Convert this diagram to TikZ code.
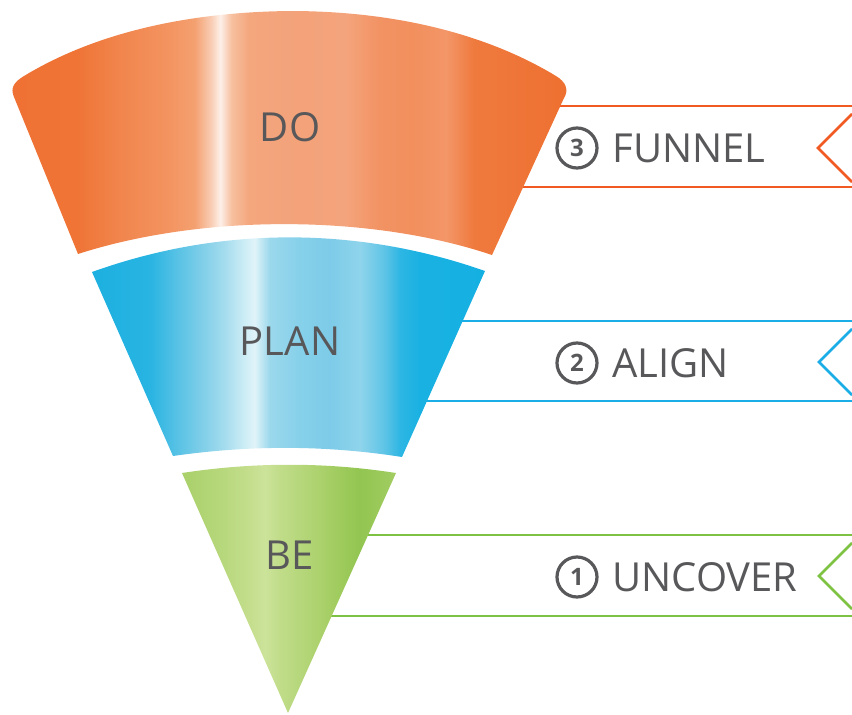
\documentclass[tikz,border=0pt]{standalone}
\usepackage{fontspec}
\setmainfont{Open Sans}
\usepackage{tikz}
\usepackage{xcolor}

\definecolor{txt}{HTML}{58585A}
\definecolor{orangeline}{HTML}{F15A22}
\definecolor{blueline}{HTML}{1BADE6}
\definecolor{greenline}{HTML}{7DC242}

% glossy stripes, left to right (25bp = left edge, 75bp = right edge)
\pgfdeclarehorizontalshading{doshade}{100bp}{%
  rgb(0bp)=(0.937,0.447,0.204); rgb(25bp)=(0.937,0.447,0.204);
  rgb(31bp)=(0.937,0.455,0.212); rgb(35bp)=(0.945,0.525,0.306);
  rgb(39bp)=(0.953,0.576,0.373); rgb(41.5bp)=(0.957,0.627,0.439);
  rgb(43bp)=(0.976,0.804,0.710); rgb(43.8bp)=(0.992,0.941,0.910);
  rgb(44.8bp)=(0.969,0.753,0.624); rgb(46.4bp)=(0.957,0.651,0.490);
  rgb(51bp)=(0.953,0.635,0.478); rgb(55bp)=(0.957,0.643,0.486);
  rgb(58bp)=(0.949,0.576,0.392); rgb(61bp)=(0.949,0.561,0.365);
  rgb(64bp)=(0.953,0.588,0.408); rgb(66.5bp)=(0.937,0.478,0.243);
  rgb(75bp)=(0.933,0.439,0.188); rgb(100bp)=(0.933,0.439,0.188)}
\pgfdeclarehorizontalshading{planshade}{100bp}{%
  rgb(0bp)=(0.110,0.690,0.878); rgb(25bp)=(0.110,0.690,0.878);
  rgb(32.4bp)=(0.161,0.706,0.886); rgb(35.6bp)=(0.333,0.757,0.898);
  rgb(38.7bp)=(0.486,0.804,0.910); rgb(41.9bp)=(0.647,0.863,0.933);
  rgb(44.5bp)=(0.812,0.933,0.965); rgb(45.7bp)=(0.878,0.953,0.973);
  rgb(47.6bp)=(0.608,0.847,0.925); rgb(51.5bp)=(0.525,0.816,0.918);
  rgb(55.3bp)=(0.490,0.796,0.910); rgb(59.1bp)=(0.561,0.831,0.922);
  rgb(62.3bp)=(0.361,0.765,0.902); rgb(64.2bp)=(0.176,0.714,0.890);
  rgb(66.7bp)=(0.098,0.694,0.886); rgb(75bp)=(0.082,0.690,0.886);
  rgb(100bp)=(0.082,0.690,0.886)}
\pgfdeclarehorizontalshading{beshade}{100bp}{%
  rgb(0bp)=(0.663,0.816,0.416); rgb(25bp)=(0.663,0.816,0.416);
  rgb(33.9bp)=(0.714,0.843,0.482); rgb(40.9bp)=(0.769,0.871,0.553);
  rgb(44.4bp)=(0.800,0.890,0.604); rgb(47.9bp)=(0.753,0.863,0.537);
  rgb(54.9bp)=(0.694,0.831,0.455); rgb(61.9bp)=(0.624,0.796,0.365);
  rgb(66.6bp)=(0.573,0.773,0.318); rgb(75bp)=(0.635,0.804,0.384);
  rgb(100bp)=(0.635,0.804,0.384)}

\begin{document}
\begin{tikzpicture}[x=1pt,y=-1pt,thick]
  \tikzstyle{word}=[text=txt,font=\fontsize{40}{40}\selectfont,inner sep=0pt]
  \tikzstyle{num}=[circle,draw=txt,line width=3.2pt,minimum size=40pt,inner sep=0pt,text=txt,font=\bfseries\fontsize{24}{24}\selectfont]
  \tikzstyle{ribbon}=[line width=2.5pt]
  \useasboundingbox (0,0) rectangle (852,715);

  % ribbons, started inside the cone so it hides their ends
  \coordinate(r3-top) at (545,106);  \coordinate(r3-bot) at (510,187);
  \coordinate(r2-top) at (450,321);  \coordinate(r2-bot) at (415,401);
  \coordinate(r1-top) at (355,535);  \coordinate(r1-bot) at (320,616);
  \draw[ribbon,orangeline](r3-top)--(852,106);
  \draw[ribbon,orangeline](r3-bot)--(852,187);
  \draw[ribbon,orangeline](852,114)--(818,148)--(852,182);
  \draw[ribbon,blueline](r2-top)--(852,321);
  \draw[ribbon,blueline](r2-bot)--(852,401);
  \draw[ribbon,blueline](852,329)--(819,362)--(852,395);
  \draw[ribbon,greenline](r1-top)--(852,535);
  \draw[ribbon,greenline](r1-bot)--(852,616);
  \draw[ribbon,greenline](852,543)--(819,576)--(852,609);

  % the cone
  \shade[shading=doshade](78,254) -- (14,97) .. controls (10,88) and (14,82) .. (24,76)
    .. controls (100,30) and (195,12) .. (290,11) .. controls (385,11) and (480,30) .. (556,76)
    .. controls (566,82) and (569,90) .. (564,98)
    -- (492,255) .. controls (370,214) and (202,214) .. (78,254) -- cycle;
  \shade[shading=planshade](92,272) .. controls (220,226) and (357,226) .. (485,271)
    -- (402,457) .. controls (325,445) and (250,445) .. (173,456) -- cycle;
  \shade[shading=beshade](182,473) .. controls (254,462) and (325,462) .. (396,473)
    -- (288,713) -- cycle;

  \node(do) at (290,127) [word]{DO};
  \node(plan) at (290,341) [word]{PLAN};
  \node(be) at (290,555) [word]{BE};

  \node(n3) at (577,148) [num]{3};
  \node(funnel) at (612,148) [word,anchor=west]{FUNNEL};
  \node(n2) at (577,363) [num]{2};
  \node(align) at (612,363) [word,anchor=west]{ALIGN};
  \node(n1) at (577,577) [num]{1};
  \node(uncover) at (612,577) [word,anchor=west]{UNCOVER};
\end{tikzpicture}
\end{document}
